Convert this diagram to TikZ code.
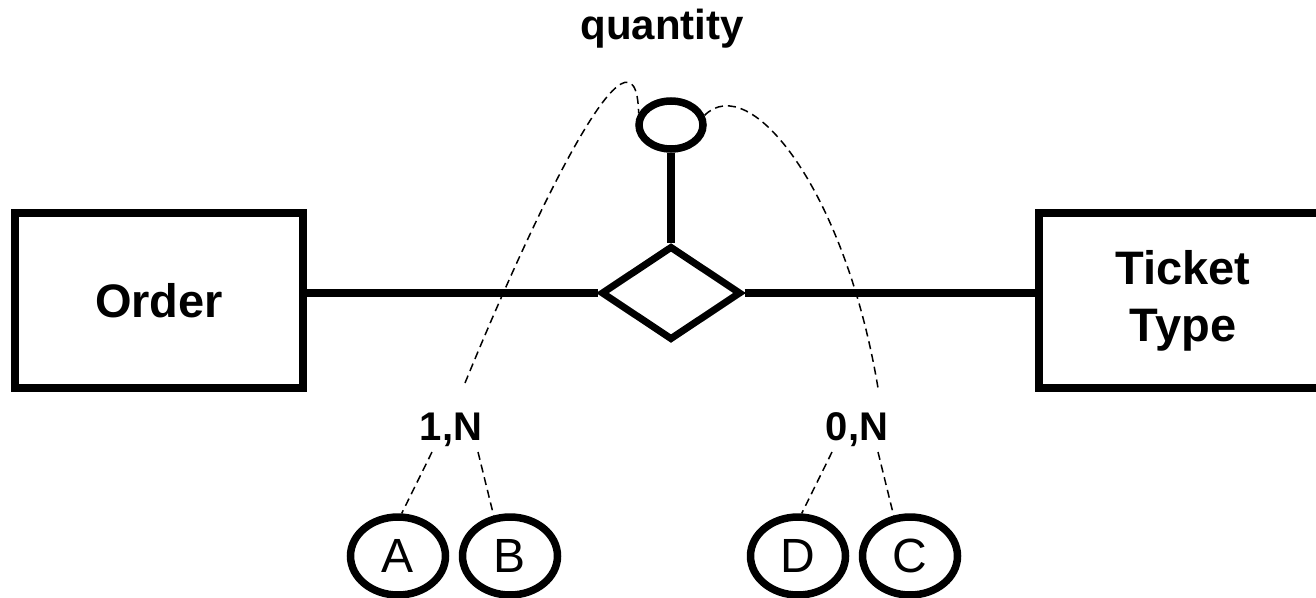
\documentclass[tikz,border=0pt]{standalone}
\usepackage{fontspec}
\setmainfont{Liberation Sans}
\usetikzlibrary{shapes.geometric}
\begin{document}
\begin{tikzpicture}[x=1pt,y=-1pt,
 entity/.style={draw, line width=7.5pt, rectangle, minimum width=288pt, minimum height=175pt, inner sep=0pt, font=\fontsize{47}{57}\selectfont\bfseries, align=center},
 relship/.style={draw, diamond, line width=7pt, minimum width=140pt, minimum height=94pt, inner sep=0pt},
 attr/.style={draw, ellipse, line width=7.5pt, minimum width=95pt, minimum height=78pt, inner sep=0pt, font=\fontsize{48}{50}\selectfont},
 relattr/.style={draw, ellipse, line width=7.5pt, minimum width=64pt, minimum height=48pt, inner sep=0pt},
 card/.style={font=\fontsize{40}{44}\selectfont\bfseries, inner sep=0pt, anchor=base},
 conn/.style={line width=7.5pt},
 dashconn/.style={line width=1.5pt, dash pattern=on 8pt off 5pt}]
\useasboundingbox (0,0) rectangle (1316,597);
\node[entity] (order) at (159,300.5) {Order};
\node[entity] (ticket) at (1183,300.5) {Ticket\\Type};
\node[relship] (rel) at (671,293) {};
\node[relattr] (qty) at (671,125) {};
\node[card, font=\fontsize{42}{46}\selectfont\bfseries] (qtylbl) at (662,39) {quantity};
\node[card] (c1) at (451,440) {1,N};
\node[card] (c2) at (857,440) {0,N};
\node[attr] (A) at (398,556) {A};
\node[attr] (B) at (510,556) {B};
\node[attr] (D) at (798,556) {D};
\node[attr] (C) at (910,556) {C};
\draw[conn] (order.east |- rel.west) -- (rel.west);
\draw[conn] (rel.east) -- (rel.east -| ticket.west);
\draw[conn] (rel.north) -- (qty.south);
\draw[dashconn] ([xshift=14pt,yshift=57pt]c1.base) .. controls (540,200) and (636,5) .. (qty.160);
\draw[dashconn] (qty.16) .. controls (750,70) and (845,190) .. ([xshift=21pt,yshift=52pt]c2.base);
\draw[dashconn] ([xshift=-19pt,yshift=-12pt]c1.base) -- (A.85);
\draw[dashconn] ([xshift=27pt,yshift=-12pt]c1.base) -- (B.112);
\draw[dashconn] ([xshift=-25pt,yshift=-12pt]c2.base) -- (D.85);
\draw[dashconn] ([xshift=21pt,yshift=-12pt]c2.base) -- (C.112);
\end{tikzpicture}
\end{document}
